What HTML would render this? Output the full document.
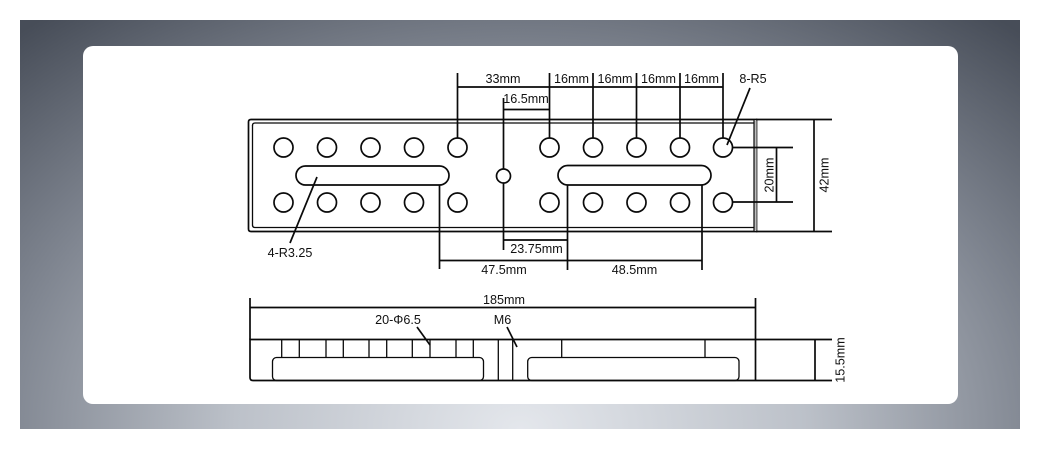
<!DOCTYPE html>
<html>
<head>
<meta charset="utf-8">
<style>
  html,body{margin:0;padding:0;}
  body{width:1040px;height:449px;background:#ffffff;position:relative;overflow:hidden;}
  .bg{position:absolute;left:20px;top:20px;width:1000px;height:409px;
      background:radial-gradient(ellipse 75% 130% at 50% 100%, #e4e7ec 0%, #bcc1c9 38%, #7e848f 70%, #474d58 100%);}
  .card{position:absolute;left:83px;top:46px;width:875px;height:358px;background:#ffffff;border-radius:10px;}
  svg{position:absolute;left:0;top:0;}
  text{font-family:"Liberation Sans",sans-serif;font-size:12.6px;fill:#111;}
</style>
</head>
<body>
<div class="bg"></div>
<div class="card"></div>
<svg width="1040" height="449" viewBox="0 0 1040 449" xmlns="http://www.w3.org/2000/svg">
  <g fill="none" stroke="#0a0a0a" stroke-width="1.7" stroke-linecap="butt">
    <!-- TOP VIEW plate outline -->
    <path d="M251,119.5 L756.5,119.5 L756.5,231.5 L251,231.5 Q248.5,231.5 248.5,229 L248.5,122 Q248.5,119.5 251,119.5 Z"/>
    <rect x="754" y="120" width="2.6" height="111" fill="#bdbdbd" stroke="none"/>
    <line x1="754" y1="119.5" x2="754" y2="231.5" stroke-width="1.2"/>
    <path d="M252.5,125.5 Q252.5,123 255,123 L754,123" stroke-width="1.3"/>
    <path d="M252.5,225 Q252.5,227.5 255,227.5 L754,227.5" stroke-width="1.3"/>
    <line x1="252.5" y1="125" x2="252.5" y2="225.5" stroke-width="1.3"/>
    <!-- extension lines right -->
    <line x1="756" y1="119.5" x2="832" y2="119.5"/>
    <line x1="756" y1="231.5" x2="832" y2="231.5"/>

    <!-- holes -->
    <circle cx="283.5" cy="147.5" r="9.5"/>
    <circle cx="327" cy="147.5" r="9.5"/>
    <circle cx="370.5" cy="147.5" r="9.5"/>
    <circle cx="414" cy="147.5" r="9.5"/>
    <circle cx="457.5" cy="147.5" r="9.5"/>
    <circle cx="549.5" cy="147.5" r="9.5"/>
    <circle cx="593" cy="147.5" r="9.5"/>
    <circle cx="636.5" cy="147.5" r="9.5"/>
    <circle cx="680" cy="147.5" r="9.5"/>
    <circle cx="723" cy="147.5" r="9.5"/>

    <circle cx="283.5" cy="202.5" r="9.5"/>
    <circle cx="327" cy="202.5" r="9.5"/>
    <circle cx="370.5" cy="202.5" r="9.5"/>
    <circle cx="414" cy="202.5" r="9.5"/>
    <circle cx="457.5" cy="202.5" r="9.5"/>
    <circle cx="549.5" cy="202.5" r="9.5"/>
    <circle cx="593" cy="202.5" r="9.5"/>
    <circle cx="636.5" cy="202.5" r="9.5"/>
    <circle cx="680" cy="202.5" r="9.5"/>
    <circle cx="723" cy="202.5" r="9.5"/>

    <circle cx="503.5" cy="176" r="7"/>

    <!-- slots -->
    <rect x="296" y="166" width="153" height="19" rx="9.5"/>
    <rect x="558" y="165.5" width="153" height="19.5" rx="9.75"/>

    <!-- top dims -->
    <line x1="457.5" y1="73" x2="457.5" y2="138"/>
    <line x1="549.5" y1="73" x2="549.5" y2="138"/>
    <line x1="593" y1="73" x2="593" y2="138"/>
    <line x1="636.5" y1="73" x2="636.5" y2="138"/>
    <line x1="680" y1="73" x2="680" y2="138"/>
    <line x1="723" y1="73" x2="723" y2="138"/>
    <line x1="457.5" y1="87" x2="723" y2="87"/>

    <line x1="503.5" y1="98" x2="503.5" y2="169"/>
    <line x1="503.5" y1="109.5" x2="549.5" y2="109.5"/>

    <!-- bottom dims -->
    <line x1="503.5" y1="183" x2="503.5" y2="250"/>
    <line x1="503.5" y1="240" x2="567.5" y2="240"/>
    <line x1="439.5" y1="185" x2="439.5" y2="269"/>
    <line x1="567.5" y1="185" x2="567.5" y2="270"/>
    <line x1="702" y1="185" x2="702" y2="270"/>
    <line x1="439.5" y1="260.5" x2="702" y2="260.5"/>

    <!-- 20mm -->
    <line x1="732.5" y1="147.5" x2="793" y2="147.5"/>
    <line x1="732.5" y1="202" x2="793" y2="202"/>
    <line x1="776.5" y1="147.5" x2="776.5" y2="202"/>
    <!-- 42mm -->
    <line x1="814" y1="119.5" x2="814" y2="231.5"/>

    <!-- leaders -->
    <line x1="750" y1="88" x2="727" y2="145"/>
    <line x1="317" y1="177" x2="290" y2="243"/>

    <!-- SIDE VIEW -->
    <line x1="250" y1="298" x2="250" y2="339.5"/>
    <line x1="755.5" y1="298" x2="755.5" y2="339.5"/>
    <line x1="250" y1="307.5" x2="755.5" y2="307.5"/>

    <path d="M832,339.5 L250,339.5 L250,377.5 Q250,380.5 253,380.5 L832,380.5"/>
    <line x1="755.5" y1="339.5" x2="755.5" y2="380.5"/>

    <g stroke-width="1.3">
      <line x1="281.7" y1="339.5" x2="281.7" y2="357.5"/>
      <line x1="299.3" y1="339.5" x2="299.3" y2="357.5"/>
      <line x1="326" y1="339.5" x2="326" y2="357.5"/>
      <line x1="343.3" y1="339.5" x2="343.3" y2="357.5"/>
      <line x1="369" y1="339.5" x2="369" y2="357.5"/>
      <line x1="386.7" y1="339.5" x2="386.7" y2="357.5"/>
      <line x1="412.3" y1="339.5" x2="412.3" y2="357.5"/>
      <line x1="430" y1="339.5" x2="430" y2="357.5"/>
      <line x1="456" y1="339.5" x2="456" y2="357.5"/>
      <line x1="473.3" y1="339.5" x2="473.3" y2="357.5"/>
      <line x1="498.3" y1="339.5" x2="498.3" y2="380.5"/>
      <line x1="512.7" y1="339.5" x2="512.7" y2="380.5"/>
      <line x1="561.7" y1="339.5" x2="561.7" y2="357.5"/>
      <line x1="705" y1="339.5" x2="705" y2="357.5"/>
      <rect x="272.5" y="357.5" width="211" height="23" rx="4"/>
      <rect x="527.7" y="357.5" width="211.3" height="23" rx="4"/>
    </g>

    <line x1="815" y1="339.5" x2="815" y2="380.5"/>

    <line x1="417" y1="327" x2="430" y2="345"/>
    <line x1="507" y1="327" x2="517" y2="347"/>
  </g>

  <!-- labels -->
  <text x="503" y="83" text-anchor="middle">33mm</text>
  <text x="571.5" y="83" text-anchor="middle">16mm</text>
  <text x="615" y="83" text-anchor="middle">16mm</text>
  <text x="658.5" y="83" text-anchor="middle">16mm</text>
  <text x="701.5" y="83" text-anchor="middle">16mm</text>
  <text x="753" y="83" text-anchor="middle">8-R5</text>
  <text x="526" y="103" text-anchor="middle">16.5mm</text>
  <text x="536.5" y="253" text-anchor="middle">23.75mm</text>
  <text x="504" y="274" text-anchor="middle">47.5mm</text>
  <text x="634.5" y="274" text-anchor="middle">48.5mm</text>
  <text x="290" y="257" text-anchor="middle">4-R3.25</text>
  <text transform="translate(773.5,175) rotate(-90)" text-anchor="middle">20mm</text>
  <text transform="translate(828.5,175) rotate(-90)" text-anchor="middle">42mm</text>

  <text x="504" y="304" text-anchor="middle">185mm</text>
  <text x="398" y="324" text-anchor="middle">20-Φ6.5</text>
  <text x="502.5" y="324" text-anchor="middle">M6</text>
  <text transform="translate(844.5,360) rotate(-90)" text-anchor="middle">15.5mm</text>
</svg>
</body>
</html>
